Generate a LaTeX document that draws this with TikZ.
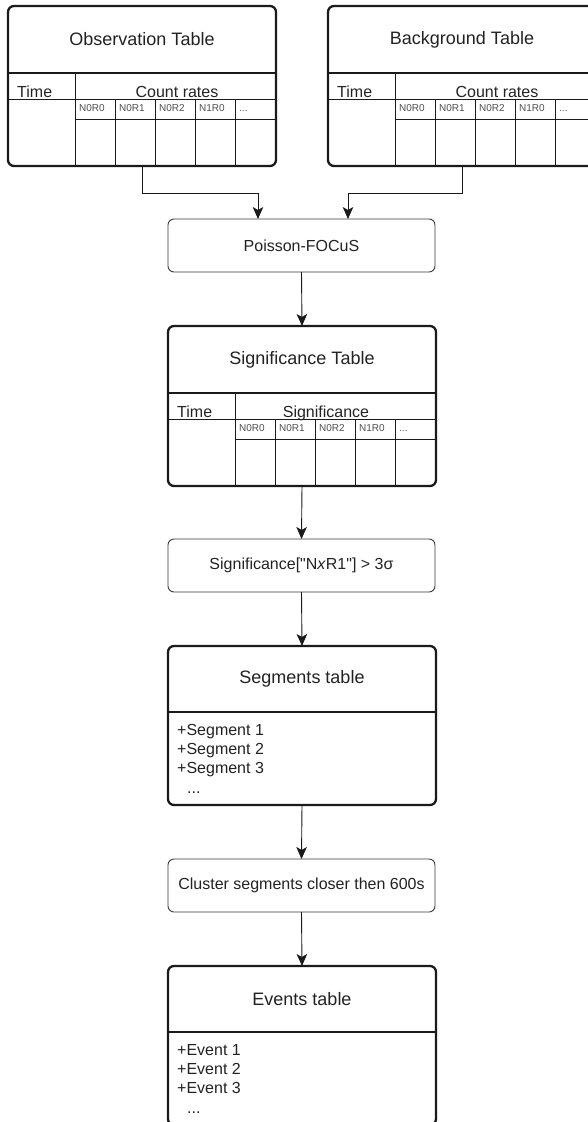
\documentclass[tikz,border=0pt]{standalone}
\usepackage{fontspec}
\setmainfont{Liberation Sans}[Ligatures=TeXOff]
\usetikzlibrary{arrows.meta,calc}
\definecolor{txt}{HTML}{222222}
\definecolor{ln}{HTML}{1A1A1A}
\definecolor{thin}{HTML}{3A3A3A}
\definecolor{small}{HTML}{505050}
\tikzset{
  tblbox/.style={draw=ln, line width=2.3pt, rounded corners=6pt, minimum width=268pt, inner sep=0pt, outer sep=0pt, anchor=north west},
  procbox/.style={draw=thin, line width=0.9pt, rounded corners=6pt, minimum width=267pt, minimum height=53pt, inner sep=0pt, outer sep=0pt, anchor=north west, font=\fontsize{16}{19}\selectfont, text=txt},
  ttl/.style={font=\fontsize{18}{21}\selectfont, text=txt, inner sep=0pt},
  fld/.style={font=\fontsize{16}{19}\selectfont, text=txt, inner sep=0pt, anchor=base},
  sub/.style={font=\fontsize{10}{12}\selectfont, text=small, inner sep=0pt, anchor=base west},
  item/.style={font=\fontsize{16}{19}\selectfont, text=txt, inner sep=0pt, anchor=base west},
  hline/.style={draw=ln, line width=1.8pt},
  cell/.style={draw=ln, line width=0.9pt},
  arr/.style={draw=ln, line width=0.9pt, -{Stealth[length=12pt,width=10.5pt,inset=3pt]}}
}
% wide table: #1 name, #2 x, #3 y, #4 title, #5 column label, #6 label x
\newcommand\widetable[6]{%
  \node[tblbox, minimum height=160pt] (#1) at (#2,#3) {};
  \begin{scope}[shift={(#2,#3)}]
    \draw[hline] (0,67) -- (268,67);
    \draw[cell] (0,93.5) -- (268,93.5);
    \draw[cell] (67,113) -- (268,113);
    \draw[cell] (67,67) -- (67,160);
    \foreach \cx in {107,147,187,227} {\draw[cell] (\cx,93.5) -- (\cx,160);}
    \node[ttl] (#1-title) at (134,33.5) {#4};
    \node[fld, anchor=base west] (#1-time) at (9,91) {Time};
    \node[fld] (#1-lab) at (#6,91) {#5};
    \node[sub] (#1-c1) at (71,105) {N0R0};
    \node[sub] (#1-c2) at (111,105) {N0R1};
    \node[sub] (#1-c3) at (151,105) {N0R2};
    \node[sub] (#1-c4) at (191,105) {N1R0};
    \node[sub] (#1-c5) at (231,105) {...};
  \end{scope}%
}
% list table: #1 name, #2 x, #3 y, #4 title, #5 item word
\newcommand\listtable[5]{%
  \node[tblbox, minimum height=159pt] (#1) at (#2,#3) {};
  \begin{scope}[shift={(#2,#3)}]
    \draw[hline] (0,66) -- (268,66);
    \node[ttl] (#1-title) at (134,33) {#4};
    \node[item] (#1-i1) at (9,89) {+#5 1};
    \node[item] (#1-i2) at (9,108) {+#5 2};
    \node[item] (#1-i3) at (9,127) {+#5 3};
    \node[item] (#1-i4) at (19,147) {...};
  \end{scope}%
}
\begin{document}
\begin{tikzpicture}[x=1pt,y=-1pt]
\useasboundingbox (0,0) rectangle (588,1122);
\clip (0,0) rectangle (588,1122);

\widetable{obs}{8}{6}{Observation Table}{Count rates}{169}
\widetable{bkg}{328}{6}{Background Table}{Count rates}{169}

\node[procbox] (pf) at (168,219) {Poisson-FOCuS};

\widetable{sig}{168}{326}{Significance Table}{Significance}{158}

\node[procbox] (flt) at (168,539) {Significance["N\textit{x}R1"] > 3σ};

\listtable{seg}{168}{646}{Segments table}{Segment}

\node[procbox] (clu) at (168,859) {Cluster segments closer then 600s};

\listtable{ev}{168}{966}{Events table}{Event}

% connectors
\coordinate (pfin1) at ($(pf.north)+(-43.5,0)$);
\coordinate (pfin2) at ($(pf.north)+(46.5,0)$);
\draw[arr] (obs.south) -- ++(0,27) -| (pfin1);
\draw[arr] (bkg.south) -- ++(0,27) -| (pfin2);
\draw[arr] (pf.south) -- (sig.north);
\draw[arr] (sig.south) -- (flt.north);
\draw[arr] (flt.south) -- (seg.north);
\draw[arr] (seg.south) -- (clu.north);
\draw[arr] (clu.south) -- (ev.north);
\end{tikzpicture}
\end{document}
